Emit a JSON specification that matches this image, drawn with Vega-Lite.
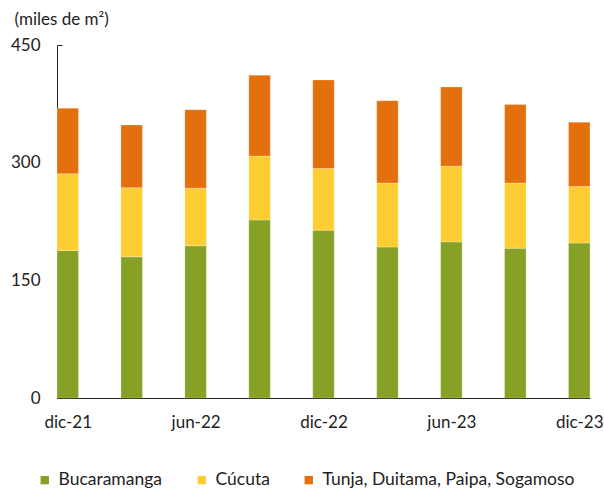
{
  "$schema": "https://vega.github.io/schema/vega-lite/v6.json",
  "autosize": "none",
  "width": 533,
  "height": 353,
  "padding": {"left": 57, "top": 45, "right": 14, "bottom": 93},
  "background": "white",
  "config": {
    "view": {"stroke": null},
    "font": "Lato",
    "axis": {"labelFont": "Lato", "titleFont": "Lato", "labelColor": "#222", "titleColor": "#222", "domainColor": "#222", "tickColor": "#222", "grid": false, "zindex": 1},
    "legend": {"labelFont": "Lato"}
  },
  "data": {
    "values": [
      {"periodo": "dic-21", "ciudad": "Bucaramanga", "valor": 188},
      {"periodo": "dic-21", "ciudad": "Cúcuta", "valor": 98},
      {"periodo": "dic-21", "ciudad": "Tunja, Duitama, Paipa, Sogamoso", "valor": 83.5},
      {"periodo": "mar-22", "ciudad": "Bucaramanga", "valor": 180},
      {"periodo": "mar-22", "ciudad": "Cúcuta", "valor": 88},
      {"periodo": "mar-22", "ciudad": "Tunja, Duitama, Paipa, Sogamoso", "valor": 80},
      {"periodo": "jun-22", "ciudad": "Bucaramanga", "valor": 194},
      {"periodo": "jun-22", "ciudad": "Cúcuta", "valor": 73.5},
      {"periodo": "jun-22", "ciudad": "Tunja, Duitama, Paipa, Sogamoso", "valor": 100},
      {"periodo": "sep-22", "ciudad": "Bucaramanga", "valor": 227},
      {"periodo": "sep-22", "ciudad": "Cúcuta", "valor": 81.5},
      {"periodo": "sep-22", "ciudad": "Tunja, Duitama, Paipa, Sogamoso", "valor": 103},
      {"periodo": "dic-22", "ciudad": "Bucaramanga", "valor": 214},
      {"periodo": "dic-22", "ciudad": "Cúcuta", "valor": 78.5},
      {"periodo": "dic-22", "ciudad": "Tunja, Duitama, Paipa, Sogamoso", "valor": 113},
      {"periodo": "mar-23", "ciudad": "Bucaramanga", "valor": 192.5},
      {"periodo": "mar-23", "ciudad": "Cúcuta", "valor": 81.5},
      {"periodo": "mar-23", "ciudad": "Tunja, Duitama, Paipa, Sogamoso", "valor": 105},
      {"periodo": "jun-23", "ciudad": "Bucaramanga", "valor": 199},
      {"periodo": "jun-23", "ciudad": "Cúcuta", "valor": 96.5},
      {"periodo": "jun-23", "ciudad": "Tunja, Duitama, Paipa, Sogamoso", "valor": 101},
      {"periodo": "sep-23", "ciudad": "Bucaramanga", "valor": 191},
      {"periodo": "sep-23", "ciudad": "Cúcuta", "valor": 83},
      {"periodo": "sep-23", "ciudad": "Tunja, Duitama, Paipa, Sogamoso", "valor": 100},
      {"periodo": "dic-23", "ciudad": "Bucaramanga", "valor": 197.5},
      {"periodo": "dic-23", "ciudad": "Cúcuta", "valor": 72},
      {"periodo": "dic-23", "ciudad": "Tunja, Duitama, Paipa, Sogamoso", "valor": 82}
    ]
  },
  "mark": {"type": "bar", "stroke": "white", "strokeWidth": 0.5, "strokeOpacity": 0.5},
  "encoding": {
    "x": {
      "field": "periodo",
      "type": "ordinal",
      "sort": ["dic-21", "mar-22", "jun-22", "sep-22", "dic-22", "mar-23", "jun-23", "sep-23", "dic-23"],
      "scale": {"paddingInner": 0.664, "paddingOuter": 0},
      "axis": {
        "title": null,
        "values": ["dic-21", "jun-22", "dic-22", "jun-23", "dic-23"],
        "labelAngle": 0,
        "labelFontSize": 17,
        "tickSize": -5,
        "tickOffset": -10.74,
        "labelOffset": 10.74,
        "labelPadding": 21,
        "domainWidth": 1
      }
    },
    "y": {
      "field": "valor",
      "type": "quantitative",
      "stack": "zero",
      "scale": {"domain": [0, 450], "nice": false},
      "axis": {
        "values": [0, 150, 300, 450],
        "labelFontSize": 17,
        "tickSize": -5,
        "labelPadding": 22,
        "domainWidth": 1,
        "title": "(miles de m²)",
        "titleAngle": 0,
        "titleAlign": "left",
        "titleBaseline": "alphabetic",
        "titleX": -43,
        "titleY": -21,
        "titleFontSize": 17,
        "titleFontWeight": "normal"
      }
    },
    "order": {"field": "ciudad", "type": "nominal", "sort": "ascending"},
    "color": {
      "field": "ciudad",
      "type": "nominal",
      "scale": {
        "domain": ["Bucaramanga", "Cúcuta", "Tunja, Duitama, Paipa, Sogamoso"],
        "range": ["#87A026", "#FDCE33", "#E3700D"]
      },
      "legend": {
        "title": null,
        "orient": "none",
        "direction": "horizontal",
        "legendX": -21,
        "legendY": 426,
        "symbolType": "square",
        "symbolSize": 70,
        "symbolStrokeWidth": 0,
        "labelFontSize": 17.5,
        "labelColor": "#222",
        "labelLimit": 400,
        "columnPadding": 30,
        "labelOffset": 5
      }
    }
  }
}
